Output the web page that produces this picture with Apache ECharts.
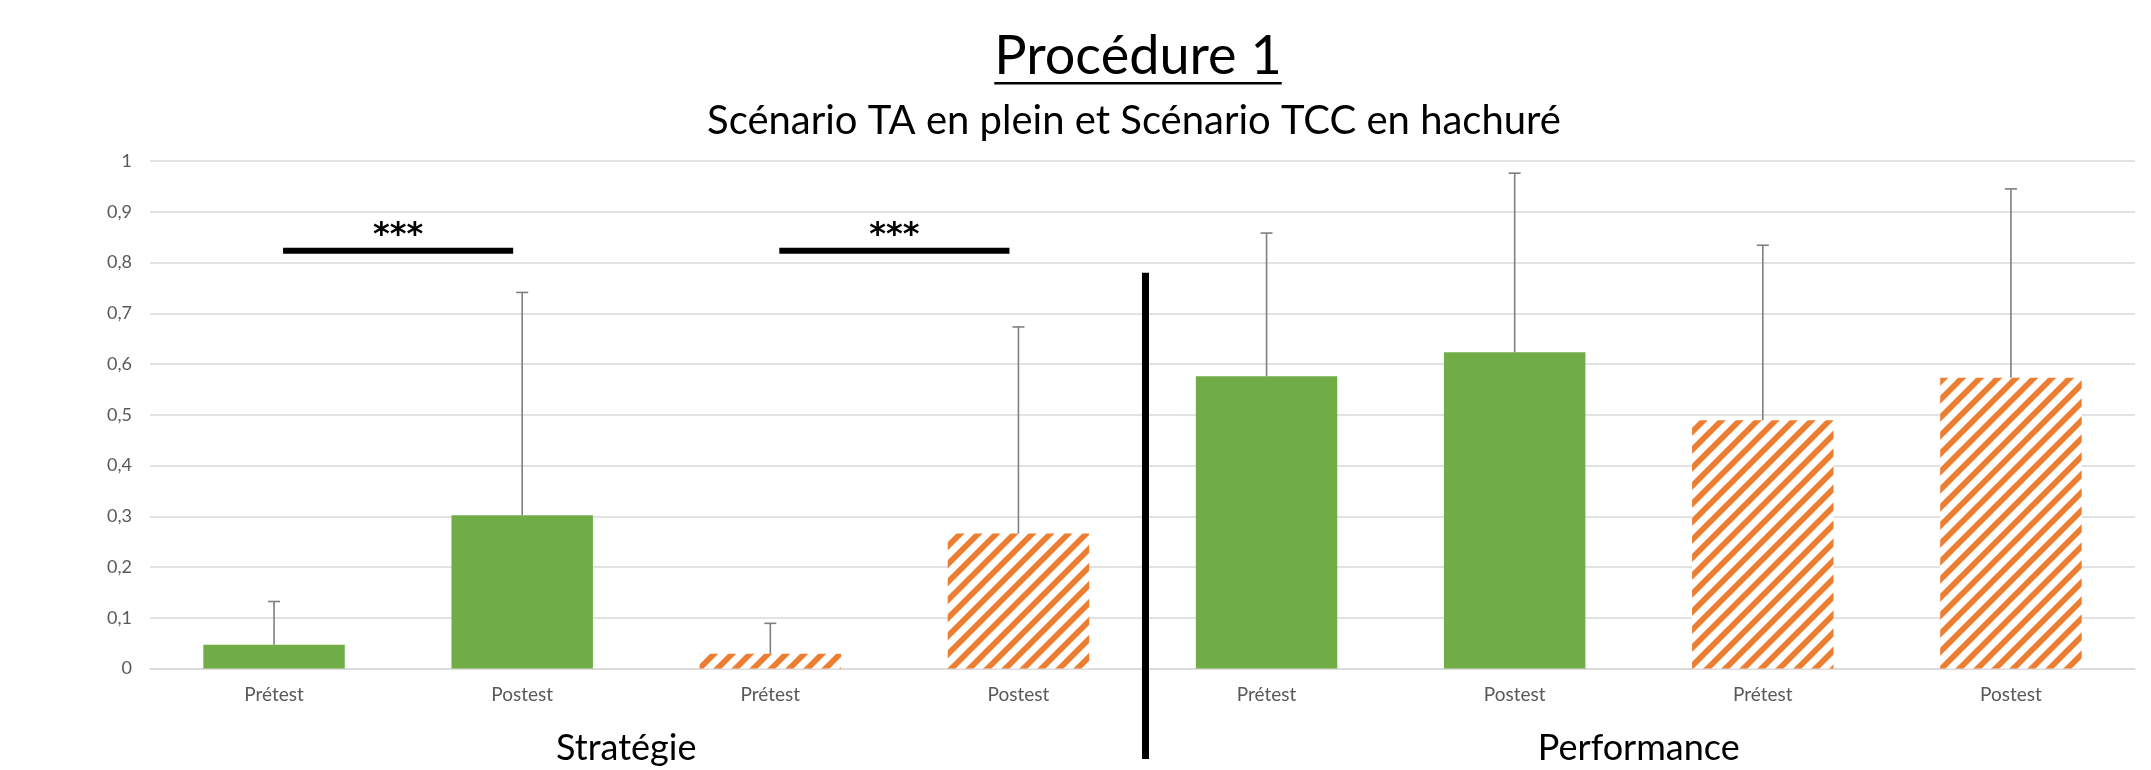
<!DOCTYPE html>
<html>
<head>
<meta charset="utf-8">
<script src="https://cdn.jsdelivr.net/npm/echarts@6/dist/echarts.min.js"></script>
<style>
  html, body { margin: 0; padding: 0; background: #fff; }
  #chart { width: 2151px; height: 770px; }
</style>
</head>
<body>
<div id="chart"></div>
<script>
// data
const categories = ['Prétest', 'Postest', 'Prétest', 'Postest', 'Prétest', 'Postest', 'Prétest', 'Postest'];
const groups = ['Stratégie', 'Performance'];
const scenarios = ['TA', 'TA', 'TCC', 'TCC', 'TA', 'TA', 'TCC', 'TCC'];
const means = [0.047, 0.302, 0.029, 0.266, 0.576, 0.623, 0.489, 0.573];
const upper = [0.132, 0.741, 0.089, 0.673, 0.858, 0.976, 0.834, 0.945];
const sigPairs = [[0, 1], [2, 3]];
const sigLevel = 0.823;
const sigLabel = '***';
const dividerTop = 0.78;

const FONT = 'Lato, "Noto Sans", sans-serif';
const GREEN = '#70AD47';
const ORANGE = '#ED7D31';

// hatch pattern (orange diagonal stripes on white)
function makeHatch() {
  const s = 18;
  const c = document.createElement('canvas');
  c.width = s; c.height = s;
  const ctx = c.getContext('2d');
  ctx.fillStyle = '#fff';
  ctx.fillRect(0, 0, s, s);
  ctx.strokeStyle = ORANGE;
  ctx.lineWidth = 5.8;
  ctx.beginPath();
  ctx.moveTo(-2, s + 2); ctx.lineTo(s + 2, -2);
  ctx.moveTo(-s / 2 - 2, s / 2 + 2); ctx.lineTo(s / 2 + 2, -s / 2 - 2);
  ctx.moveTo(s / 2 - 2, 3 * s / 2 + 2); ctx.lineTo(3 * s / 2 + 2, s / 2 - 2);
  ctx.stroke();
  return c;
}
const hatch = { image: makeHatch(), repeat: 'repeat' };

function textWidth(text, font) {
  const ctx = document.createElement('canvas').getContext('2d');
  ctx.font = font;
  return ctx.measureText(text).width;
}

const chart = echarts.init(document.getElementById('chart'));

const titleText = 'Procédure 1';
const titleFont = '54px ' + FONT;
const titleW = textWidth(titleText, titleFont);
const subText = 'Scénario TA en plein et Scénario TCC en hachuré';
const subFont = '40px ' + FONT;
const titleX = 1138;

const option = {
  animation: false,
  backgroundColor: '#fff',
  grid: { left: 150, right: 16, top: 161, bottom: 101.5, containLabel: false, outerBoundsMode: 'none' },
  graphic: [
    {
      type: 'text', left: titleX - titleW / 2, top: 30,
      style: { text: titleText, font: titleFont, fill: '#000' }
    },
    {
      type: 'rect', left: titleX - titleW / 2, top: 82,
      shape: { width: titleW, height: 2.5 },
      style: { fill: '#000' }
    },
    {
      type: 'text', left: titleX - textWidth(subText, subFont) / 2 - 4, top: 101,
      style: { text: subText, font: subFont, fill: '#000' }
    }
  ],
  xAxis: [
    {
      type: 'category',
      data: categories,
      axisLine: { lineStyle: { color: '#d9d9d9', width: 1.5 } },
      axisTick: { show: false },
      axisLabel: { color: '#595959', fontSize: 19, fontFamily: FONT, margin: 17 }
    },
    {
      type: 'category',
      position: 'bottom',
      data: groups,
      axisLine: { show: false },
      axisTick: { show: false },
      splitLine: { show: false },
      axisLabel: {
        margin: 62,
        formatter: (v, i) => (i === 0 ? '{s|' + v + '}' : '{p|' + v + '}'),
        rich: {
          s: { color: '#000', fontSize: 36, fontFamily: FONT, padding: [0, 40, 0, 0] },
          p: { color: '#000', fontSize: 36, fontFamily: FONT }
        }
      }
    }
  ],
  yAxis: {
    type: 'value',
    min: 0,
    max: 1,
    interval: 0.1,
    axisLine: { show: false },
    axisTick: { show: false },
    axisLabel: {
      color: '#595959', fontSize: 18, fontFamily: FONT, margin: 18,
      formatter: v => String(Math.round(v * 10) / 10).replace('.', ',')
    },
    splitLine: { lineStyle: { color: '#d9d9d9', width: 1.5 } }
  },
  series: [
    {
      type: 'bar',
      barWidth: '57%',
      data: means.map((v, i) => ({
        value: v,
        itemStyle: { color: scenarios[i] === 'TA' ? GREEN : hatch }
      })),
      z: 2
    },
    {
      // error bars (upper side only)
      type: 'custom',
      clip: false,
      z: 3,
      encode: { x: 0, y: 2 },
      data: means.map((m, i) => [i, m, upper[i]]),
      renderItem(params, api) {
        const lo = api.coord([api.value(0), api.value(1)]);
        const hi = api.coord([api.value(0), api.value(2)]);
        const st = { stroke: '#7f7f7f', lineWidth: 1.6 };
        return {
          type: 'group',
          children: [
            { type: 'line', shape: { x1: lo[0], y1: lo[1], x2: hi[0], y2: hi[1] }, style: st },
            { type: 'line', shape: { x1: hi[0] - 6, y1: hi[1], x2: hi[0] + 6, y2: hi[1] }, style: st }
          ]
        };
      }
    },
    {
      // significance bars
      type: 'custom',
      clip: false,
      z: 4,
      encode: { x: 0, y: 2 },
      data: sigPairs.map(p => [p[0], p[1], sigLevel]),
      renderItem(params, api) {
        const a = api.coord([api.value(0), api.value(2)]);
        const b = api.coord([api.value(1), api.value(2)]);
        const cx = (a[0] + b[0]) / 2;
        return {
          type: 'group',
          children: [
            { type: 'line', shape: { x1: a[0] + 9, y1: a[1], x2: b[0] - 9, y2: b[1] }, style: { stroke: '#000', lineWidth: 6 } },
            { type: 'text', x: cx, y: a[1] - 15, style: { text: sigLabel, font: 'bold 32px "DejaVu Sans", sans-serif', fill: '#000', textAlign: 'center', textVerticalAlign: 'middle' } }
          ]
        };
      }
    },
    {
      // vertical divider between the two groups
      type: 'custom',
      clip: false,
      z: 4,
      encode: { x: 0, y: 2 },
      data: [[3, 4, dividerTop]],
      renderItem(params, api) {
        const a = api.coord([api.value(0), api.value(2)]);
        const b = api.coord([api.value(1), api.value(2)]);
        const x = (a[0] + b[0]) / 2 + 3;
        return {
          type: 'line',
          shape: { x1: x, y1: a[1], x2: x, y2: api.getHeight() - 11 },
          style: { stroke: '#000', lineWidth: 7 }
        };
      }
    }
  ]
};

chart.setOption(option);
</script>
</body>
</html>
